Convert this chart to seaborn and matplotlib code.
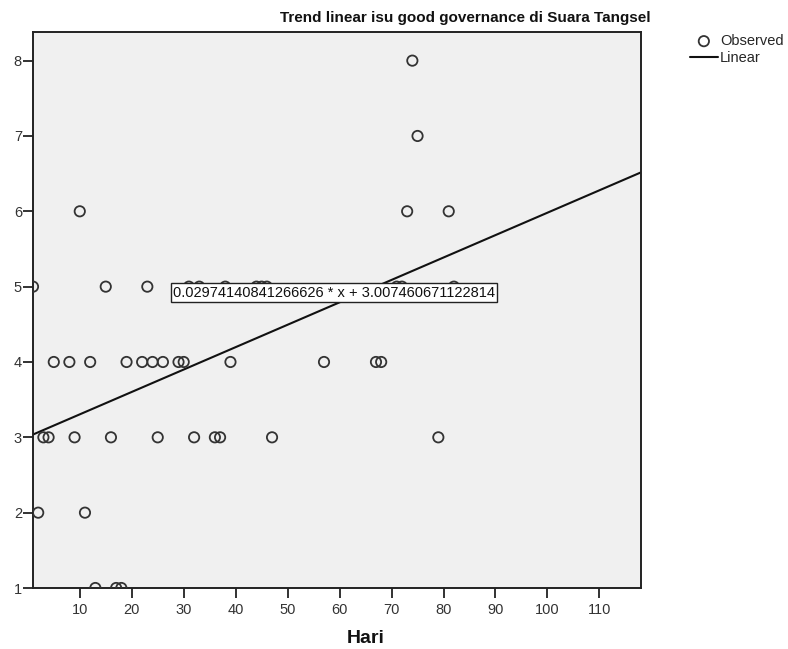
import numpy as np
import pandas as pd
import matplotlib
matplotlib.use("Agg")
import matplotlib.pyplot as plt
import seaborn as sns

# hari (x) dan skor isu (y)
hari = [1, 15, 23, 31, 33, 38, 44, 45, 46, 71, 72, 82,
        5, 8, 12, 19, 22, 24, 26, 29, 30, 39, 57, 67, 68,
        3, 4, 9, 16, 25, 32, 36, 37, 47, 79,
        2, 11,
        13, 17, 18,
        10, 73, 81,
        75,
        74]
skor = [5, 5, 5, 5, 5, 5, 5, 5, 5, 5, 5, 5,
        4, 4, 4, 4, 4, 4, 4, 4, 4, 4, 4, 4, 4,
        3, 3, 3, 3, 3, 3, 3, 3, 3, 3,
        2, 2,
        1, 1, 1,
        6, 6, 6,
        7,
        8]

slope = 0.02974140841266626
intercept = 3.007460671122814
x_range = [1, 118]

df = pd.DataFrame({'Hari': hari, 'Skor': skor})
trend = pd.DataFrame({'Hari': x_range})
trend['Skor'] = slope * trend['Hari'] + intercept

sns.set_style("white")
plt.rcParams['font.family'] = ['Liberation Sans', 'DejaVu Sans']

fig = plt.figure(figsize=(7.88, 6.49), dpi=100)
ax = fig.add_axes([33/788, 1-588/649, (641-33)/788, (588-32)/649])
ax.set_facecolor('#f0f0f0')

sns.scatterplot(data=df, x='Hari', y='Skor', ax=ax, marker='o', s=55,
                facecolor='none', edgecolor='#333333', linewidth=1.3,
                label='Observed', zorder=3)
sns.lineplot(data=trend, x='Hari', y='Skor', ax=ax, color='#111111',
             linewidth=1.5, label='Linear', zorder=2)

ax.set_xlim(1, 118)
ax.set_ylim(1, 8.38)
ax.set_xticks(range(10, 111, 10))
ax.set_yticks(range(1, 9))

for s in ax.spines.values():
    s.set_color('#222222')
    s.set_linewidth(1.4)

ax.tick_params(axis='both', direction='out', length=7, width=1.3,
               bottom=True, left=True,
               color='#222222', labelsize=10.5, labelcolor='#333333')
ax.tick_params(axis='y', pad=1)
ax.tick_params(axis='x', pad=4)

ax.set_ylabel('')
ax.set_xlabel('Hari', fontsize=14, fontweight='bold', color='#111111')
ax.xaxis.set_label_coords((366-33)/(641-33), -0.075)

ax.text(28, 4.92, f'{slope} * x + {intercept}', fontsize=10.5, color='#111111',
        ha='left', va='center', zorder=5,
        bbox=dict(boxstyle='square,pad=0.15', facecolor='white',
                  edgecolor='#222222', linewidth=1))

fig.text(465/788, 1-18/649, 'Trend linear isu good governance di Suara Tangsel',
         ha='center', va='center', fontsize=11, fontweight='bold', color='#111111')

ax.legend(loc='upper left', bbox_to_anchor=(690/788, 1-34/649),
          bbox_transform=fig.transFigure, frameon=False, fontsize=10.5,
          handlelength=1.9, handletextpad=0.15, labelspacing=0.2,
          borderpad=0, borderaxespad=0)

fig.savefig('out.png', dpi=100)
